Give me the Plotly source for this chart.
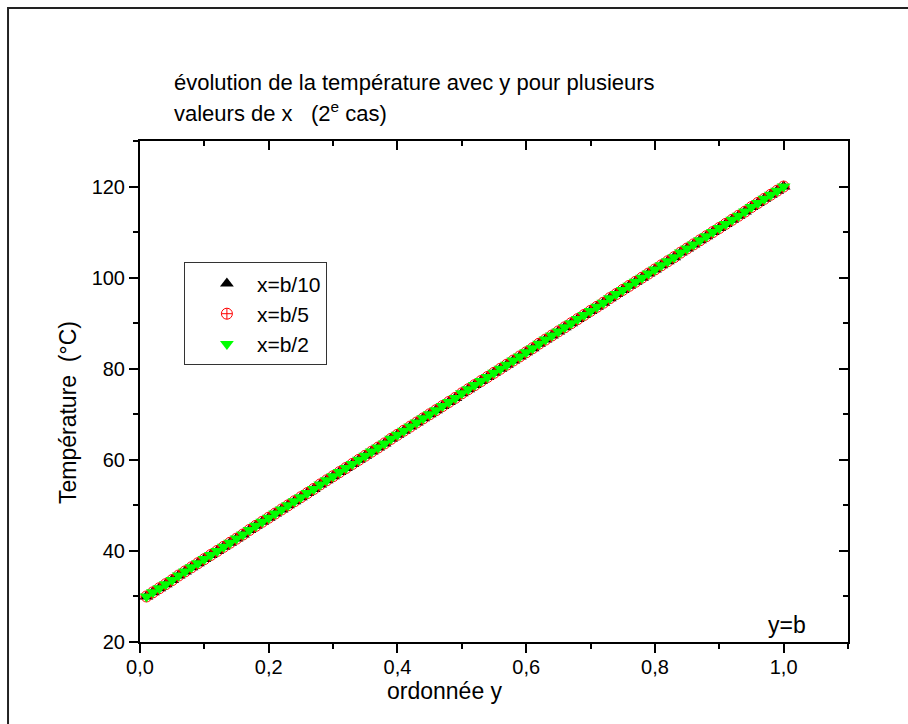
import plotly.graph_objects as go

# ordonnée y (abscissa of the chart)
y_ord = [0.01, 0.02, 0.03, 0.04, 0.05, 0.06, 0.07, 0.08, 0.09, 0.10,
         0.11, 0.12, 0.13, 0.14, 0.15, 0.16, 0.17, 0.18, 0.19, 0.20,
         0.21, 0.22, 0.23, 0.24, 0.25, 0.26, 0.27, 0.28, 0.29, 0.30,
         0.31, 0.32, 0.33, 0.34, 0.35, 0.36, 0.37, 0.38, 0.39, 0.40,
         0.41, 0.42, 0.43, 0.44, 0.45, 0.46, 0.47, 0.48, 0.49, 0.50,
         0.51, 0.52, 0.53, 0.54, 0.55, 0.56, 0.57, 0.58, 0.59, 0.60,
         0.61, 0.62, 0.63, 0.64, 0.65, 0.66, 0.67, 0.68, 0.69, 0.70,
         0.71, 0.72, 0.73, 0.74, 0.75, 0.76, 0.77, 0.78, 0.79, 0.80,
         0.81, 0.82, 0.83, 0.84, 0.85, 0.86, 0.87, 0.88, 0.89, 0.90,
         0.91, 0.92, 0.93, 0.94, 0.95, 0.96, 0.97, 0.98, 0.99, 1.00]

temp_b10 = [30.0, 30.9, 31.8, 32.7, 33.6, 34.6, 35.5, 36.4, 37.3, 38.2,
            39.1, 40.0, 40.9, 41.8, 42.7, 43.6, 44.6, 45.5, 46.4, 47.3,
            48.2, 49.1, 50.0, 50.9, 51.8, 52.7, 53.6, 54.6, 55.5, 56.4,
            57.3, 58.2, 59.1, 60.0, 60.9, 61.8, 62.7, 63.6, 64.6, 65.5,
            66.4, 67.3, 68.2, 69.1, 70.0, 70.9, 71.8, 72.7, 73.6, 74.6,
            75.5, 76.4, 77.3, 78.2, 79.1, 80.0, 80.9, 81.8, 82.7, 83.6,
            84.5, 85.5, 86.4, 87.3, 88.2, 89.1, 90.0, 90.9, 91.8, 92.7,
            93.6, 94.5, 95.5, 96.4, 97.3, 98.2, 99.1, 100.0, 100.9, 101.8,
            102.7, 103.6, 104.5, 105.5, 106.4, 107.3, 108.2, 109.1, 110.0, 110.9,
            111.8, 112.7, 113.6, 114.5, 115.5, 116.4, 117.3, 118.2, 119.1, 120.0]

temp_b5 = [30.0, 30.9, 31.8, 32.7, 33.6, 34.6, 35.5, 36.4, 37.3, 38.2,
           39.1, 40.0, 40.9, 41.8, 42.7, 43.6, 44.6, 45.5, 46.4, 47.3,
           48.2, 49.1, 50.0, 50.9, 51.8, 52.7, 53.6, 54.6, 55.5, 56.4,
           57.3, 58.2, 59.1, 60.0, 60.9, 61.8, 62.7, 63.6, 64.6, 65.5,
           66.4, 67.3, 68.2, 69.1, 70.0, 70.9, 71.8, 72.7, 73.6, 74.6,
           75.5, 76.4, 77.3, 78.2, 79.1, 80.0, 80.9, 81.8, 82.7, 83.6,
           84.5, 85.5, 86.4, 87.3, 88.2, 89.1, 90.0, 90.9, 91.8, 92.7,
           93.6, 94.5, 95.5, 96.4, 97.3, 98.2, 99.1, 100.0, 100.9, 101.8,
           102.7, 103.6, 104.5, 105.5, 106.4, 107.3, 108.2, 109.1, 110.0, 110.9,
           111.8, 112.7, 113.6, 114.5, 115.5, 116.4, 117.3, 118.2, 119.1, 120.0]

temp_b2 = [30.0, 30.9, 31.8, 32.7, 33.6, 34.6, 35.5, 36.4, 37.3, 38.2,
           39.1, 40.0, 40.9, 41.8, 42.7, 43.6, 44.6, 45.5, 46.4, 47.3,
           48.2, 49.1, 50.0, 50.9, 51.8, 52.7, 53.6, 54.6, 55.5, 56.4,
           57.3, 58.2, 59.1, 60.0, 60.9, 61.8, 62.7, 63.6, 64.6, 65.5,
           66.4, 67.3, 68.2, 69.1, 70.0, 70.9, 71.8, 72.7, 73.6, 74.6,
           75.5, 76.4, 77.3, 78.2, 79.1, 80.0, 80.9, 81.8, 82.7, 83.6,
           84.5, 85.5, 86.4, 87.3, 88.2, 89.1, 90.0, 90.9, 91.8, 92.7,
           93.6, 94.5, 95.5, 96.4, 97.3, 98.2, 99.1, 100.0, 100.9, 101.8,
           102.7, 103.6, 104.5, 105.5, 106.4, 107.3, 108.2, 109.1, 110.0, 110.9,
           111.8, 112.7, 113.6, 114.5, 115.5, 116.4, 117.3, 118.2, 119.1, 120.0]

series_names = ["x=b/10", "x=b/5", "x=b/2"]
x_ticks = [0.0, 0.2, 0.4, 0.6, 0.8, 1.0]
y_ticks = [20, 40, 60, 80, 100, 120]

FONT = "Liberation Sans, Arial, sans-serif"

fig = go.Figure()
fig.add_trace(go.Scatter(x=y_ord, y=temp_b10, mode="markers", name=series_names[0],
                         marker=dict(symbol="triangle-up", size=12, color="black")))
fig.add_trace(go.Scatter(x=y_ord, y=temp_b5, mode="markers", name=series_names[1],
                         marker=dict(symbol="circle-cross-open", size=11, color="red",
                                     line=dict(width=1, color="red"))))
fig.add_trace(go.Scatter(x=y_ord, y=temp_b2, mode="markers", name=series_names[2],
                         marker=dict(symbol="triangle-down", size=12, color="#00ff00")))
# helper trace for the top / right mirrored axes
fig.add_trace(go.Scatter(x=[None], y=[None], xaxis="x2", yaxis="y2",
                         showlegend=False, hoverinfo="skip"))

axis_common = dict(showgrid=False, zeroline=False, showline=True,
                   linecolor="black", linewidth=2, tickcolor="black", tickwidth=2)

fig.update_layout(
    width=908, height=724,
    margin=dict(l=140, r=60, t=141, b=82),
    paper_bgcolor="white", plot_bgcolor="white",
    separators=", ",
    font=dict(family=FONT, size=20, color="black"),
    showlegend=True,
    legend=dict(x=0.062, y=0.758, xanchor="left", yanchor="top",
                bordercolor="#333333", borderwidth=1, bgcolor="white",
                font=dict(family=FONT, size=21), itemwidth=50,
                indentation=12, tracegroupgap=0),
    xaxis=dict(range=[0, 1.1], tickvals=x_ticks, tickformat=".1f",
               ticks="outside", ticklen=9, ticklabelstandoff=-3,
               minor=dict(dtick=0.1, tick0=0, ticks="outside", ticklen=5,
                          tickcolor="black", tickwidth=2),
               tickfont=dict(size=20), **axis_common),
    yaxis=dict(range=[20, 130], tickvals=y_ticks,
               ticks="outside", ticklen=9,
               minor=dict(dtick=10, tick0=0, ticks="outside", ticklen=5,
                          tickcolor="black", tickwidth=2),
               tickfont=dict(size=20), **axis_common),
    xaxis2=dict(range=[0, 1.1], overlaying="x", side="top", anchor="y",
                tickvals=x_ticks, showticklabels=False, ticks="inside", ticklen=9,
                minor=dict(dtick=0.1, tick0=0, ticks="inside", ticklen=5,
                           tickcolor="black", tickwidth=2),
                **axis_common),
    yaxis2=dict(range=[20, 130], overlaying="y", side="right", anchor="x",
                tickvals=y_ticks, showticklabels=False, ticks="inside", ticklen=9,
                minor=dict(dtick=10, tick0=0, ticks="inside", ticklen=5,
                           tickcolor="black", tickwidth=2),
                **axis_common),
    shapes=[dict(type="rect", xref="paper", yref="paper",
                 x0=-0.1864, x1=1.5, y0=-1.0, y1=1.2655,
                 line=dict(color="#222222", width=2), layer="below")],
    annotations=[
        dict(text="évolution de la température avec y pour plusieurs",
             xref="paper", yref="paper", x=0.045, y=1.116,
             xanchor="left", yanchor="middle", showarrow=False,
             font=dict(family=FONT, size=22)),
        dict(text="valeurs de x   (2<sup>e</sup> cas)",
             xref="paper", yref="paper", x=0.045, y=1.057,
             xanchor="left", yanchor="middle", showarrow=False,
             font=dict(family=FONT, size=22)),
        dict(text="Température  (°C)", xref="paper", yref="paper",
             x=-0.1017, y=0.459, textangle=-90, xanchor="center", yanchor="middle",
             showarrow=False, font=dict(family=FONT, size=23)),
        dict(text="ordonnée y", xref="paper", yref="paper",
             x=0.431, y=-0.098, xanchor="center", yanchor="middle",
             showarrow=False, font=dict(family=FONT, size=23)),
        dict(text="y=b", xref="x", yref="y", x=1.005, y=23.7,
             xanchor="center", yanchor="middle", showarrow=False,
             font=dict(family=FONT, size=23)),
    ],
)

fig.write_html("out.html", post_script="document.body.style.margin='0';",
               config={"displayModeBar": False})
